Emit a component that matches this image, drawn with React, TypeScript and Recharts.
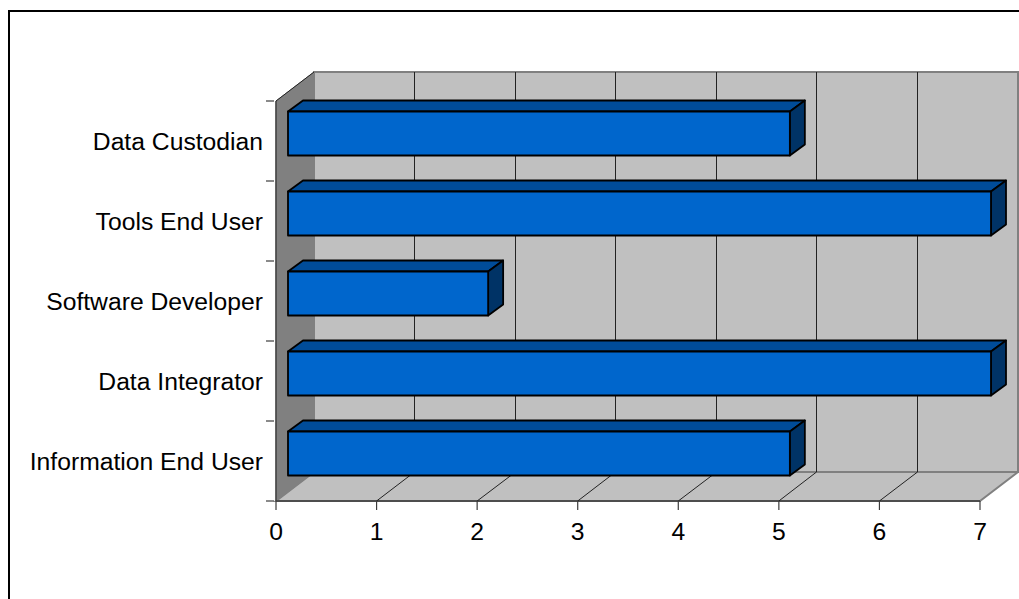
import { Bar, BarChart, ReferenceArea, XAxis, YAxis } from "recharts";

const roles = [
  "Data Custodian",
  "Tools End User",
  "Software Developer",
  "Data Integrator",
  "Information End User",
];
const counts = [5, 7, 2, 7, 5];
const valueTicks = [0, 1, 2, 3, 4, 5, 6, 7];
const gridTicks = [1, 2, 3, 4, 5, 6];

const data = roles.map((role, i) => ({ role, count: counts[i] }));

const FONT = "'Liberation Sans', Arial, sans-serif";
const FONT_SIZE = 24.7;
const AXIS_COLOR = "#3c3c3c";
const WALL_EDGE = "#808080";
// how far the back wall sits behind the front plane
const DEPTH_X = 38;
const DEPTH_Y = 29;

function Walls({ x, y, width, height }: any) {
  const r = x + width;
  const b = y + height;
  return (
    <g>
      <polygon
        points={`${x + DEPTH_X},${y - DEPTH_Y} ${r + DEPTH_X},${y - DEPTH_Y} ${r + DEPTH_X},${b - DEPTH_Y} ${x + DEPTH_X},${b - DEPTH_Y}`}
        fill="#c0c0c0"
        stroke={WALL_EDGE}
        strokeWidth={2}
      />
      <polygon
        points={`${x},${b} ${x + DEPTH_X},${b - DEPTH_Y} ${r + DEPTH_X},${b - DEPTH_Y} ${r},${b}`}
        fill="#c0c0c0"
        stroke={WALL_EDGE}
        strokeWidth={2}
      />
      <polygon
        points={`${x},${y} ${x + DEPTH_X},${y - DEPTH_Y} ${x + DEPTH_X},${b - DEPTH_Y} ${x},${b}`}
        fill="#808080"
        stroke={WALL_EDGE}
        strokeWidth={1}
      />
      <line x1={x} y1={y} x2={x + DEPTH_X} y2={y - DEPTH_Y} stroke="#222" strokeWidth={1} />
      <line x1={x} y1={y} x2={x} y2={b} stroke={AXIS_COLOR} strokeWidth={1.4} />
      <line x1={x} y1={b} x2={r} y2={b} stroke={AXIS_COLOR} strokeWidth={1.6} />
    </g>
  );
}

// only the left edge of the area is used, it sits on the tick value
function GridLine({ x, y, height }: any) {
  const bottom = y + height;
  const backX = Math.floor(x + DEPTH_X) + 0.5;
  return (
    <polyline
      points={`${x},${bottom} ${backX},${bottom - DEPTH_Y} ${backX},${y - DEPTH_Y}`}
      stroke="#222"
      strokeWidth={1}
      fill="none"
    />
  );
}

function Bar3D({ x, y, width, height }: any) {
  const dx = 15;
  const dy = 11;
  const left = x + 12;
  const top = y - 7.5;
  const right = left + width - 1;
  const bottom = top + height;
  const edge = { stroke: "#000", strokeWidth: 1.8, strokeLinejoin: "round" as const };
  return (
    <g>
      <polygon
        points={`${left},${top} ${left + dx},${top - dy} ${right + dx},${top - dy} ${right},${top}`}
        fill="#004c99"
        {...edge}
      />
      <polygon
        points={`${right},${top} ${right + dx},${top - dy} ${right + dx},${bottom - dy} ${right},${bottom}`}
        fill="#003366"
        {...edge}
      />
      <rect x={left} y={top} width={right - left} height={height} fill="#0066cc" {...edge} />
    </g>
  );
}

function RoleTick({ x, y, payload, index }: any) {
  const band = 80;
  const axisX = x + 8;
  return (
    <g>
      <line x1={axisX - 8} x2={axisX} y1={y - band / 2} y2={y - band / 2} stroke={AXIS_COLOR} strokeWidth={1.2} />
      {index === roles.length - 1 && (
        <line x1={axisX - 8} x2={axisX} y1={y + band / 2} y2={y + band / 2} stroke={AXIS_COLOR} strokeWidth={1.2} />
      )}
      <text x={x - 3} y={y + 9} textAnchor="end" fontSize={FONT_SIZE} fontFamily={FONT} fill="#000">
        {payload.value}
      </text>
    </g>
  );
}

export default function App() {
  return (
    <div style={{ position: "absolute", left: 0, top: 0, width: 1019, height: 599, overflow: "hidden", background: "#fff" }}>
      <div
        style={{
          position: "absolute",
          left: 8,
          top: 10,
          right: 0,
          bottom: 0,
          borderTop: "2px solid #000",
          borderLeft: "2px solid #000",
        }}
      />
      <div style={{ position: "absolute", left: 0, top: 0 }}>
        <BarChart
          width={1019}
          height={599}
          data={data}
          layout="vertical"
          margin={{ top: 101, right: 39, bottom: 58, left: 0 }}
        >
          <XAxis
            type="number"
            domain={[0, 7]}
            ticks={valueTicks}
            interval={0}
            height={40}
            axisLine={false}
            tickSize={9}
            tickLine={{ stroke: AXIS_COLOR, strokeWidth: 1.2 }}
            tickMargin={12}
            tick={{ fontSize: FONT_SIZE, fontFamily: FONT, fill: "#000" }}
          />
          <YAxis
            type="category"
            dataKey="role"
            width={276}
            axisLine={false}
            tickLine={false}
            tickSize={8}
            interval={0}
            tick={<RoleTick />}
          />
          <ReferenceArea x1={0} x2={7} shape={<Walls />} fill="none" stroke="none" />
          {gridTicks.map((t) => (
            <ReferenceArea key={t} x1={t} x2={t + 1} shape={<GridLine />} fill="none" stroke="none" />
          ))}
          <Bar dataKey="count" barSize={44} shape={<Bar3D />} isAnimationActive={false} />
        </BarChart>
      </div>
    </div>
  );
}
